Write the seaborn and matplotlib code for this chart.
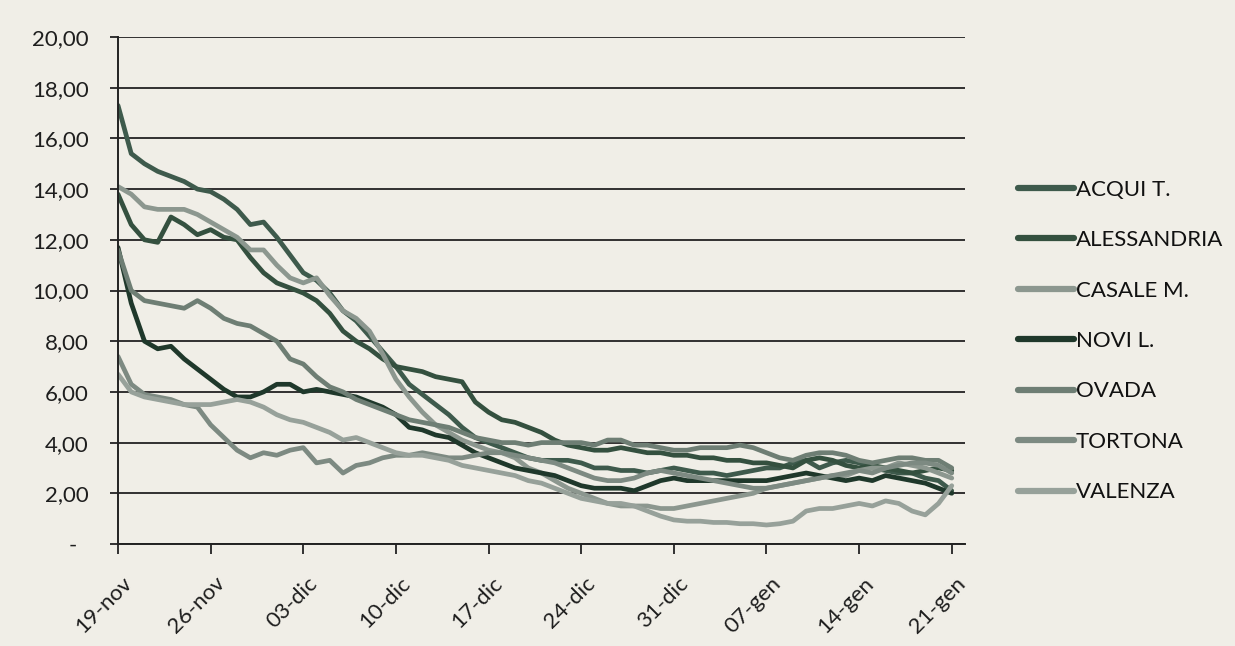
import matplotlib
matplotlib.use("Agg")
import matplotlib.pyplot as plt
import matplotlib.transforms as mtransforms
import pandas as pd
import seaborn as sns

# ---------------- dati ----------------
GIORNI_TICK = list(range(0, 64, 7))
ETICHETTE_X = ["19-nov", "26-nov", "03-dic", "10-dic", "17-dic",
               "24-dic", "31-dic", "07-gen", "14-gen", "21-gen"]
ETICHETTE_Y = ["-  ", "2,00", "4,00", "6,00", "8,00", "10,00",
               "12,00", "14,00", "16,00", "18,00", "20,00"]

ACQUI = [17.3, 15.4, 15.0, 14.7, 14.5, 14.3, 14.0, 13.9, 13.6, 13.2,
         12.6, 12.7, 12.1, 11.4, 10.7, 10.4, 9.9, 9.2, 8.8, 8.2,
         7.6, 7.0, 6.3, 5.9, 5.5, 5.1, 4.6, 4.2, 4.0, 3.8,
         3.6, 3.4, 3.3, 3.3, 3.3, 3.2, 3.0, 3.0, 2.9, 2.9,
         2.8, 2.9, 3.0, 2.9, 2.8, 2.8, 2.7, 2.8, 2.9, 3.0,
         3.0, 3.2, 3.3, 3.0, 3.2, 3.3, 3.2, 3.0, 2.9, 2.8,
         2.8, 2.6, 2.5, 2.1]
ALESSANDRIA = [13.8, 12.6, 12.0, 11.9, 12.9, 12.6, 12.2, 12.4, 12.1, 12.0,
               11.3, 10.7, 10.3, 10.1, 9.9, 9.6, 9.1, 8.4, 8.0, 7.7,
               7.3, 7.0, 6.9, 6.8, 6.6, 6.5, 6.4, 5.6, 5.2, 4.9,
               4.8, 4.6, 4.4, 4.1, 3.9, 3.8, 3.7, 3.7, 3.8, 3.7,
               3.6, 3.6, 3.5, 3.5, 3.4, 3.4, 3.3, 3.3, 3.2, 3.2,
               3.1, 3.0, 3.3, 3.4, 3.3, 3.1, 3.0, 3.1, 3.0, 2.9,
               2.8, 2.9, 3.0, 2.9]
CASALE = [14.1, 13.8, 13.3, 13.2, 13.2, 13.2, 13.0, 12.7, 12.4, 12.1,
          11.6, 11.6, 11.0, 10.5, 10.3, 10.5, 9.8, 9.2, 8.9, 8.4,
          7.5, 6.5, 5.8, 5.2, 4.7, 4.4, 4.1, 3.9, 3.7, 3.6,
          3.4, 3.0, 2.8, 2.5, 2.2, 2.0, 1.8, 1.6, 1.5, 1.5,
          1.5, 1.4, 1.4, 1.5, 1.6, 1.7, 1.8, 1.9, 2.0, 2.2,
          2.3, 2.4, 2.5, 2.6, 2.7, 2.7, 2.9, 3.0, 3.0, 3.2,
          3.1, 3.0, 2.8, 2.6]
NOVI = [11.7, 9.5, 8.0, 7.7, 7.8, 7.3, 6.9, 6.5, 6.1, 5.8,
        5.8, 6.0, 6.3, 6.3, 6.0, 6.1, 6.0, 5.9, 5.8, 5.6,
        5.4, 5.1, 4.6, 4.5, 4.3, 4.2, 3.9, 3.6, 3.4, 3.2,
        3.0, 2.9, 2.8, 2.7, 2.5, 2.3, 2.2, 2.2, 2.2, 2.1,
        2.3, 2.5, 2.6, 2.5, 2.5, 2.5, 2.5, 2.5, 2.5, 2.5,
        2.6, 2.7, 2.8, 2.7, 2.6, 2.5, 2.6, 2.5, 2.7, 2.6,
        2.5, 2.4, 2.2, 2.0]
OVADA = [11.6, 10.0, 9.6, 9.5, 9.4, 9.3, 9.6, 9.3, 8.9, 8.7,
         8.6, 8.3, 8.0, 7.3, 7.1, 6.6, 6.2, 6.0, 5.7, 5.5,
         5.3, 5.1, 4.9, 4.8, 4.7, 4.6, 4.4, 4.2, 4.1, 4.0,
         4.0, 3.9, 4.0, 4.0, 4.0, 4.0, 3.9, 4.1, 4.1, 3.9,
         3.9, 3.8, 3.7, 3.7, 3.8, 3.8, 3.8, 3.9, 3.8, 3.6,
         3.4, 3.3, 3.5, 3.6, 3.6, 3.5, 3.3, 3.2, 3.3, 3.4,
         3.4, 3.3, 3.3, 3.0]
TORTONA = [7.4, 6.3, 5.9, 5.8, 5.7, 5.5, 5.4, 4.7, 4.2, 3.7,
           3.4, 3.6, 3.5, 3.7, 3.8, 3.2, 3.3, 2.8, 3.1, 3.2,
           3.4, 3.5, 3.5, 3.6, 3.5, 3.4, 3.4, 3.5, 3.6, 3.6,
           3.5, 3.4, 3.3, 3.2, 3.0, 2.8, 2.6, 2.5, 2.5, 2.6,
           2.8, 2.9, 2.8, 2.7, 2.6, 2.5, 2.4, 2.3, 2.2, 2.2,
           2.3, 2.4, 2.5, 2.6, 2.7, 2.8, 2.9, 2.8, 3.0, 3.1,
           3.2, 3.2, 3.1, 2.8]
VALENZA = [6.7, 6.0, 5.8, 5.7, 5.6, 5.5, 5.5, 5.5, 5.6, 5.7,
           5.6, 5.4, 5.1, 4.9, 4.8, 4.6, 4.4, 4.1, 4.2, 4.0,
           3.8, 3.6, 3.5, 3.5, 3.4, 3.3, 3.1, 3.0, 2.9, 2.8,
           2.7, 2.5, 2.4, 2.2, 2.0, 1.8, 1.7, 1.6, 1.6, 1.5,
           1.3, 1.1, 0.95, 0.9, 0.9, 0.85, 0.85, 0.8, 0.8, 0.75,
           0.8, 0.9, 1.3, 1.4, 1.4, 1.5, 1.6, 1.5, 1.7, 1.6,
           1.3, 1.15, 1.6, 2.3]

COMUNI = ["ACQUI T.", "ALESSANDRIA", "CASALE M.", "NOVI L.",
          "OVADA", "TORTONA", "VALENZA"]
SERIE = [ACQUI, ALESSANDRIA, CASALE, NOVI, OVADA, TORTONA, VALENZA]
COLORI = ["#3e5a4c", "#34503f", "#8c978f", "#1f382b",
          "#6e7e74", "#7d8a82", "#97a19a"]

SFONDO = "#f0eee7"

# ---------------- grafico ----------------
righe = []
for comune, valori in zip(COMUNI, SERIE):
    for giorno, v in enumerate(valori):
        righe.append({"giorno": giorno, "valore": v, "comune": comune})
df = pd.DataFrame(righe)

sns.set_theme(style="white")
plt.rcParams["font.family"] = ["Lato", "DejaVu Sans"]

fig = plt.figure(figsize=(12.35, 6.46), dpi=100, facecolor=SFONDO)
ax = fig.add_axes([118 / 1235, 1 - 544 / 646, (965 - 118) / 1235, (544 - 37) / 646])
ax.set_facecolor(SFONDO)

sns.lineplot(data=df, x="giorno", y="valore", hue="comune",
             palette=COLORI, linewidth=3.4, ax=ax, legend=True)
for ln in ax.lines:
    ln.set_solid_joinstyle("round")
    ln.set_solid_capstyle("round")

ax.set_xlim(0, 64.0)
ax.set_ylim(0, 20)
ax.set_xlabel("")
ax.set_ylabel("")
ax.grid(axis="y", color="#222222", linewidth=1.3)
ax.set_axisbelow(True)
ax.tick_params(axis="y", direction="out", length=6, width=1.3, color="#222222", pad=15, left=True)
ax.tick_params(axis="x", direction="out", length=7, width=1.3, color="#222222", pad=14, bottom=True)
for lato in ["top", "right"]:
    ax.spines[lato].set_visible(False)
for lato in ["left", "bottom"]:
    ax.spines[lato].set_color("#222222")
    ax.spines[lato].set_linewidth(1.4)

ax.set_yticks(range(0, 21, 2))
ax.set_yticklabels(ETICHETTE_Y, fontsize=16, color="#1e1e1e")
ax.set_xticks(GIORNI_TICK)
ax.set_xticklabels(ETICHETTE_X, fontsize=16, color="#1e1e1e",
                   rotation=45, ha="right", va="center", rotation_mode="anchor")
# sposta le etichette a destra e in basso come nell'originale (dopo tick_params)
offset = mtransforms.ScaledTranslation(11 / 100, -7 / 100, fig.dpi_scale_trans)
for lab in ax.get_xticklabels():
    lab.set_transform(lab.get_transform() + offset)

handles, labels = ax.get_legend_handles_labels()
ax.get_legend().remove()
for h in handles:
    h.set_linewidth(4.5)
fig.legend(handles, labels, loc="center left", bbox_to_anchor=(998 / 1235, 1 - 341 / 646),
           frameon=False, fontsize=16, handlelength=2.5, handletextpad=0.1,
           labelspacing=1.37, labelcolor="#111111")

fig.savefig("out.png", dpi=100, facecolor=SFONDO)
